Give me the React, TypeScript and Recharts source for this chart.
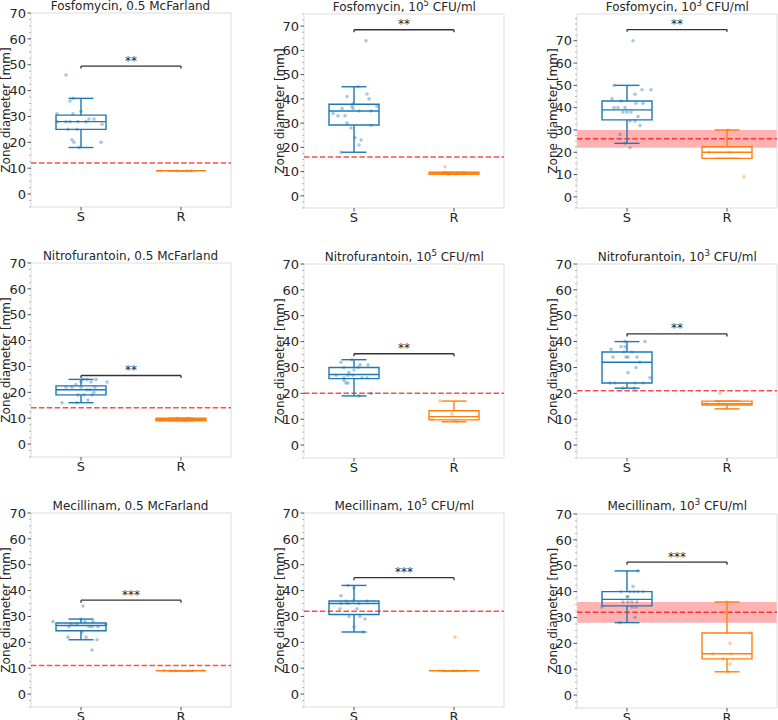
import React from 'react';
import { ComposedChart, XAxis, YAxis, Scatter, ReferenceArea, ReferenceLine } from 'recharts';

const FONT = 'DejaVu Sans, sans-serif';
const INK = '#262626';
const BLUE = '#1f77b4';
const ORANGE = '#ff7f0e';

const groups = ['S', 'R'];
const antibiotics = ['Fosfomycin', 'Nitrofurantoin', 'Mecillinam'];
const inoculumExp = [null, '5', '3'];

// Fosfomycin, 0.5 McFarland
const fosMcfS = [46, 37, 36, 31, 31, 32, 28, 28, 28, 28, 29, 29, 27, 25, 25, 21, 20, 20, 18, 28];
const fosMcfSJit = [-0.15, -0.08, -0.11, -0.24, -0.08, 0, -0.24, -0.15, -0.11, 0.05, 0.08, 0.13, 0.21, -0.13, -0.04, -0.09, -0.07, 0.2, -0.02, -0.03];
const fosMcfR = [9, 9, 9, 9];
const fosMcfRJit = [-0.21, -0.04, 0.06, 0.1];
const fosMcfBoxS = [18, 25, 28, 30.5, 37];
const fosMcfBoxR = [9, 9, 9, 9, 9];

// Fosfomycin, 10^5 CFU/ml
const fosE5S = [64, 45, 41, 42, 40, 37, 37, 38, 36, 36, 35, 35, 34, 33, 33, 30, 29, 28, 24, 23, 21, 18];
const fosE5SJit = [0.12, 0.04, -0.07, 0.13, 0.15, -0.02, 0.23, -0.01, -0.12, -0.01, 0.05, 0.17, -0.21, -0.16, -0.09, -0.07, 0.17, -0.03, 0.01, 0.07, 0.05, -0.13];
const fosE5R = [12, 9, 9, 9];
const fosE5RJit = [-0.09, -0.06, -0.05, 0.02];
const fosE5BoxS = [18, 29.2, 35, 37.8, 45];
const fosE5BoxR = [9, 9, 9, 9.75, 9.75];

// Fosfomycin, 10^3 CFU/ml
const fosE3S = [70, 50, 48, 48, 46, 44, 43, 40, 40, 40, 42, 42, 38, 38, 38, 36, 34, 34, 32, 28, 24, 22];
const fosE3SJit = [0.06, -0.13, 0.15, 0.24, 0.08, -0.15, -0.06, -0.13, -0.09, -0.02, 0.09, 0.16, -0.04, 0, 0.04, 0.11, 0.03, 0.08, 0.13, -0.07, -0.02, 0.03];
const fosE3R = [30, 20, 20, 9];
const fosE3RJit = [0.01, -0.18, 0.03, 0.17];
const fosE3BoxS = [24, 34.5, 39, 43, 50];
const fosE3BoxR = [17.25, 17.25, 20, 22.5, 30];

// Nitrofurantoin, 0.5 McFarland
const nitMcfS = [16, 16, 17, 25, 25, 25, 24, 24, 24, 23, 22, 22, 22, 22, 21, 21, 19, 19, 19, 20];
const nitMcfSJit = [-0.19, -0.04, 0.07, 0.02, 0.06, 0.15, 0, 0.26, 0.1, -0.05, -0.15, -0.09, 0, 0.14, 0.06, 0.09, -0.03, 0.03, 0.11, 0.13];
const nitMcfR = [9, 10, 9, 10];
const nitMcfRJit = [-0.21, -0.04, 0.05, 0.07];
const nitMcfBoxS = [16, 19, 21, 22.5, 25];
const nitMcfBoxR = [9, 9, 9.5, 10, 10];

// Nitrofurantoin, 10^5 CFU/ml
const nitE5S = [33, 32, 31, 31, 30, 30, 29, 28, 27, 27, 27, 26, 26, 26, 25, 24, 24, 20, 19];
const nitE5SJit = [-0.02, -0.13, 0.06, 0.14, -0.1, 0.04, 0, -0.05, -0.06, -0.18, -0.01, 0.13, 0.08, -0.1, -0.1, -0.08, -0.06, 0.17, 0.05];
const nitE5R = [17, 12, 10, 9];
const nitE5RJit = [-0.14, -0.02, -0.22, 0.03];
const nitE5BoxS = [19, 25.7, 27.3, 30, 33];
const nitE5BoxR = [9, 9.75, 11, 13.25, 17];

// Nitrofurantoin, 10^3 CFU/ml
const nitE3S = [40, 40, 37, 38, 38, 36, 36, 34, 34, 34, 34, 32, 30, 28, 26, 24, 24, 24, 24, 22, 22];
const nitE3SJit = [0.18, -0.02, -0.16, -0.06, -0.02, 0.05, -0.03, -0.14, -0.01, 0.01, 0.1, 0.13, 0.09, 0.01, 0.23, -0.17, -0.12, 0.08, 0.16, -0.04, 0.07];
const nitE3R = [20, 16, 16, 14];
const nitE3RJit = [-0.07, -0.08, -0.2, -0.01];
const nitE3BoxS = [22, 24, 32, 36, 40];
const nitE3BoxR = [14, 15.5, 16, 17, 17];

// Mecillinam, 0.5 McFarland
const mecMcfS = [34, 28, 29, 28, 28, 27, 27, 27, 26, 26, 26, 26, 24, 22, 22, 21, 17];
const mecMcfSJit = [0.02, -0.28, 0, 0.12, 0.04, -0.1, -0.04, 0.25, -0.12, 0.08, 0.11, 0.17, 0.01, -0.13, 0.05, 0.16, 0.11];
const mecMcfR = [9, 9, 9, 9, 9, 9];
const mecMcfRJit = [-0.17, -0.1, -0.06, 0.08, 0.12, 0.22];
const mecMcfBoxS = [21, 24.5, 26.5, 27.5, 29];
const mecMcfBoxR = [9, 9, 9, 9, 9];

// Mecillinam, 10^5 CFU/ml
const mecE5S = [42, 41, 38, 36, 36, 36, 35, 35, 35, 33, 33, 30, 30, 29, 26, 24];
const mecE5SJit = [-0.06, 0, -0.13, -0.08, -0.01, 0.13, -0.13, -0.06, 0.05, -0.14, 0.03, -0.05, 0.06, 0.11, 0, 0.09];
const mecE5R = [22, 9, 9, 9, 9, 9];
const mecE5RJit = [0.01, -0.14, -0.1, -0.01, 0.03, 0.12];
const mecE5BoxS = [24, 30.75, 35, 36, 42];
const mecE5BoxR = [9, 9, 9, 9, 9];

// Mecillinam, 10^3 CFU/ml
const mecE3S = [48, 42, 40, 40, 40, 40, 40, 38, 38, 36, 36, 36, 36, 34, 34, 34, 30, 28];
const mecE3SJit = [0.11, 0.06, -0.06, 0.03, 0.07, 0.11, 0.16, 0, 0.01, -0.04, 0.01, 0.05, 0.1, -0.25, 0.05, 0.09, 0.08, -0.07];
const mecE3R = [36, 32, 24, 20, 16, 16, 14, 12, 9];
const mecE3RJit = [0, -0.02, 0.23, 0.03, -0.14, 0.04, -0.04, 0.03, 0.01];
const mecE3BoxS = [28, 34.5, 37, 40, 48];
const mecE3BoxR = [9, 14, 16, 24, 36];

// per panel, row by row
const cutoffs = [12, 16, 26, 14, 20, 21, 11, 32, 32];
const cutoffBands = [null, null, [22, 30], null, null, null, null, null, [28, 36]];
const sigStars = ['**', '**', '**', '**', '**', '**', '***', '***', '***'];
const sigHeights = [49.5, 68.5, 75, 26.5, 35.3, 43, 36.3, 45, 51.4];
const yMaxes = [70, 75, 82, 70, 70, 70, 70, 70, 70];

const sData = [fosMcfS, fosE5S, fosE3S, nitMcfS, nitE5S, nitE3S, mecMcfS, mecE5S, mecE3S];
const sJit = [fosMcfSJit, fosE5SJit, fosE3SJit, nitMcfSJit, nitE5SJit, nitE3SJit, mecMcfSJit, mecE5SJit, mecE3SJit];
const rData = [fosMcfR, fosE5R, fosE3R, nitMcfR, nitE5R, nitE3R, mecMcfR, mecE5R, mecE3R];
const rJit = [fosMcfRJit, fosE5RJit, fosE3RJit, nitMcfRJit, nitE5RJit, nitE3RJit, mecMcfRJit, mecE5RJit, mecE3RJit];
const sBoxes = [fosMcfBoxS, fosE5BoxS, fosE3BoxS, nitMcfBoxS, nitE5BoxS, nitE3BoxS, mecMcfBoxS, mecE5BoxS, mecE3BoxS];
const rBoxes = [fosMcfBoxR, fosE5BoxR, fosE3BoxR, nitMcfBoxR, nitE5BoxR, nitE3BoxR, mecMcfBoxR, mecE5BoxR, mecE3BoxR];

// plot-area layout
const colLefts = [30.5, 304.3, 577.3];
const panelTops = [13, 14, 14, 263, 264, 264, 513, 513, 513.5];
const PLOT_W = 200;
const PLOT_H = 194;
const PAD_L = 40;
const PAD_T = 20;
const AXIS_H = 30;

const toPoints = (vals: number[], jit: number[], pos: number) =>
  vals.map((y, i) => ({ x: pos + jit[i], y }));

const YTick = (props: any) => {
  const { x, y, payload } = props;
  const v = payload.value;
  const major = v % 10 === 0 && v >= 0 && v <= 70;
  return (
    <g>
      <line
        x1={x - (major ? 3.5 : 2)}
        x2={x}
        y1={y}
        y2={y}
        stroke={major ? INK : '#777'}
        strokeWidth={major ? 0.8 : 0.5}
      />
      {major && (
        <text x={x - 5} y={y} dy="0.36em" textAnchor="end" fontSize={13} fill={INK} fontFamily={FONT}>
          {v}
        </text>
      )}
    </g>
  );
};

function boxElements(stats: number[], pos: number, color: string, key: string) {
  const [lo, q1, med, q3, hi] = stats;
  const line = { stroke: color, strokeWidth: 1.4, ifOverflow: 'visible' as const };
  return [
    <ReferenceArea key={key + 'b'} x1={pos - 0.25} x2={pos + 0.25} y1={q1} y2={q3} fill="none" fillOpacity={0} stroke={color} strokeWidth={1.4} ifOverflow="visible" />,
    <ReferenceLine key={key + 'm'} segment={[{ x: pos - 0.25, y: med }, { x: pos + 0.25, y: med }]} {...line} />,
    <ReferenceLine key={key + 'wu'} segment={[{ x: pos, y: q3 }, { x: pos, y: hi }]} {...line} />,
    <ReferenceLine key={key + 'wl'} segment={[{ x: pos, y: lo }, { x: pos, y: q1 }]} {...line} />,
    <ReferenceLine key={key + 'cu'} segment={[{ x: pos - 0.125, y: hi }, { x: pos + 0.125, y: hi }]} {...line} />,
    <ReferenceLine key={key + 'cl'} segment={[{ x: pos - 0.125, y: lo }, { x: pos + 0.125, y: lo }]} {...line} />,
  ];
}

function Panel({ i }: { i: number }) {
  const left = colLefts[i % 3];
  const top = panelTops[i];
  const yMax = yMaxes[i];
  // minor ticks every 2.5, majors every 10
  const yTicks: number[] = [];
  for (let v = -5; v <= yMax; v += 2.5) yTicks.push(v);
  const band = cutoffBands[i];
  const h = sigHeights[i];
  const dot = (color: string) => (p: any) => <circle cx={p.cx} cy={p.cy} r={1.8} fill={color} fillOpacity={0.4} />;
  const sigLine = { stroke: '#333', strokeWidth: 1.3, ifOverflow: 'visible' as const };

  return (
    <div style={{ position: 'absolute', left: left - PAD_L, top: top - PAD_T }}>
      <ComposedChart
        width={PAD_L + PLOT_W + 10}
        height={PAD_T + PLOT_H + AXIS_H}
        margin={{ top: PAD_T, right: 10, bottom: 0, left: 0 }}
      >
        <XAxis
          type="number"
          dataKey="x"
          domain={[-0.5, 1.5]}
          ticks={[0, 1]}
          tickFormatter={(v: number) => groups[v]}
          axisLine={false}
          tickLine={{ stroke: INK, strokeWidth: 0.8 }}
          tickSize={3.5}
          tickMargin={1.5}
          tick={{ fontSize: 13, fill: INK, fontFamily: FONT }}
          height={AXIS_H}
          allowDataOverflow
        />
        <YAxis
          type="number"
          dataKey="y"
          domain={[-5, yMax]}
          ticks={yTicks}
          interval={0}
          tick={(p: any) => <YTick {...p} />}
          tickLine={false}
          tickSize={0}
          tickMargin={0}
          axisLine={false}
          width={PAD_L}
          allowDataOverflow
        />
        {band && (
          <ReferenceArea x1={-0.5} x2={1.5} y1={band[0]} y2={band[1]} fill="#ff0000" fillOpacity={0.3} stroke="none" />
        )}
        <ReferenceLine y={cutoffs[i]} stroke="#ff0000" strokeOpacity={0.7} strokeWidth={1.5} strokeDasharray="5.5 2.4" />
        {boxElements(sBoxes[i], 0, BLUE, 's')}
        {boxElements(rBoxes[i], 1, ORANGE, 'r')}
        <Scatter data={toPoints(sData[i], sJit[i], 0)} isAnimationActive={false} shape={dot(BLUE)} />
        <Scatter data={toPoints(rData[i], rJit[i], 1)} isAnimationActive={false} shape={dot(ORANGE)} />
        <ReferenceLine segment={[{ x: 0, y: h }, { x: 1, y: h }]} {...sigLine} />
        <ReferenceLine segment={[{ x: 0, y: h - 1 }, { x: 0, y: h }]} {...sigLine} />
        <ReferenceLine segment={[{ x: 1, y: h - 1 }, { x: 1, y: h }]} {...sigLine} />
        <Scatter
          data={[{ x: 0.5, y: h }]}
          isAnimationActive={false}
          fill={INK}
          shape={(p: any) => (
            <text
              x={p.cx}
              y={p.cy - 1.5}
              textAnchor="middle"
              fontSize={12}
              fontFamily={FONT}
              style={{ fill: INK, stroke: 'none' }}
            >
              {sigStars[i]}
            </text>
          )}
        />
        <ReferenceArea x1={-0.5} x2={1.5} y1={-5} y2={yMax} fill="none" fillOpacity={0} stroke="#dddddd" strokeWidth={1} ifOverflow="visible" />
      </ComposedChart>
    </div>
  );
}

function Labels() {
  const items = [];
  for (let i = 0; i < 9; i++) {
    const left = colLefts[i % 3];
    const top = panelTops[i];
    const exp = inoculumExp[i % 3];
    const name = antibiotics[Math.floor(i / 3)];
    items.push(
      <text key={'t' + i} x={left + PLOT_W / 2} y={top - 3.5} textAnchor="middle" fontSize={12} fill={INK} fontFamily={FONT}>
        {exp ? (
          <>
            {name}, 10
            <tspan dy={-5} fontSize={8.5}>{exp}</tspan>
            <tspan dy={5}> CFU/ml</tspan>
          </>
        ) : (
          `${name}, 0.5 McFarland`
        )}
      </text>
    );
    const lx = left - 20.5;
    const ly = top + PLOT_H / 2;
    items.push(
      <text key={'y' + i} x={lx} y={ly} transform={`rotate(-90 ${lx} ${ly})`} textAnchor="middle" fontSize={12} fill={INK} fontFamily={FONT}>
        Zone diameter [mm]
      </text>
    );
  }
  return (
    <svg width={778} height={720} style={{ position: 'absolute', left: 0, top: 0, pointerEvents: 'none' }}>
      {items}
    </svg>
  );
}

export default function App() {
  return (
    <div style={{ position: 'absolute', left: 0, top: 0, width: 778, height: 720, overflow: 'hidden', background: '#fff' }}>
      {[0, 1, 2, 3, 4, 5, 6, 7, 8].map((i) => (
        <Panel key={i} i={i} />
      ))}
      <Labels />
    </div>
  );
}
